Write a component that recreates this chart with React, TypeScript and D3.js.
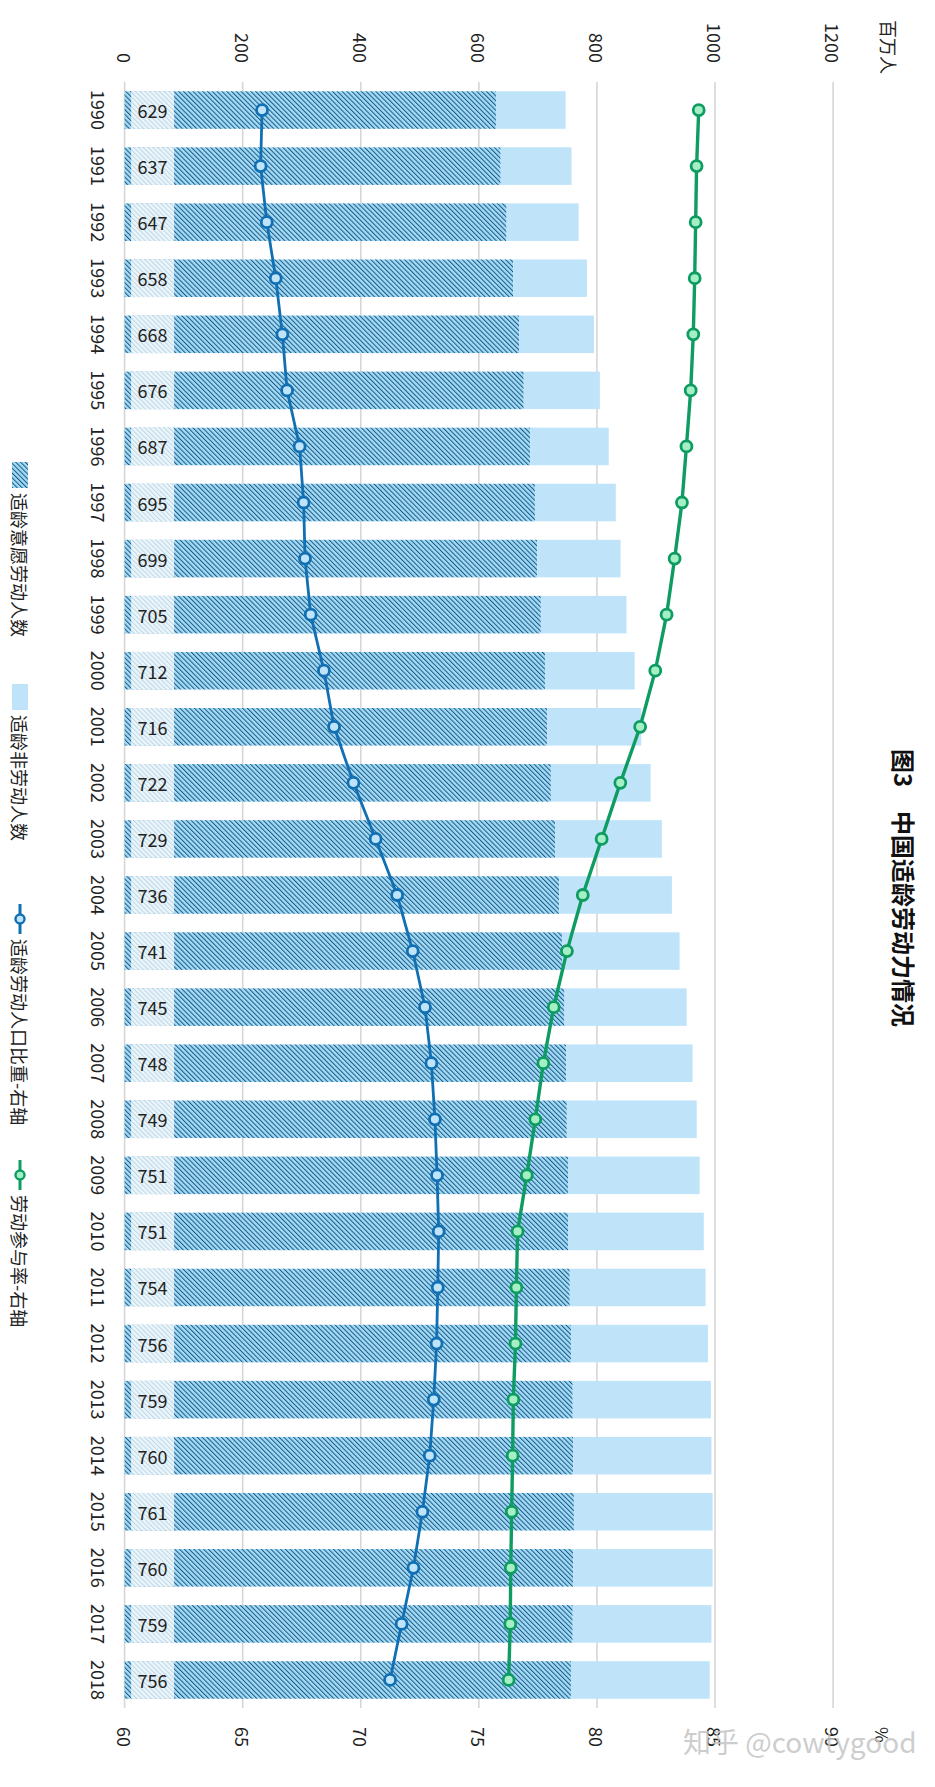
import React from 'react';
import * as d3 from 'd3';

const years = [1990,1991,1992,1993,1994,1995,1996,1997,1998,1999,2000,2001,2002,2003,2004,2005,2006,2007,2008,2009,2010,2011,2012,2013,2014,2015,2016,2017,2018];
const laborForce = [629,637,647,658,668,676,687,695,699,705,712,716,722,729,736,741,745,748,749,751,751,754,756,759,760,761,760,759,756];
const nonLabor = [118,120,122,125,127,129,133,137,141,145,152,159,169,181,191,199,207,214,220,223,230,230,232,234,234,235,236,235,235];
const workingAgeShare = [65.82,65.76,66.02,66.40,66.68,66.88,67.41,67.58,67.64,67.88,68.44,68.87,69.69,70.63,71.54,72.20,72.72,72.99,73.14,73.23,73.30,73.26,73.21,73.09,72.92,72.61,72.23,71.73,71.24];
const participation = [84.31,84.22,84.18,84.14,84.08,83.97,83.79,83.60,83.29,82.95,82.47,81.83,80.99,80.20,79.40,78.73,78.17,77.73,77.39,77.03,76.64,76.59,76.55,76.46,76.43,76.39,76.35,76.33,76.26];
const leftTicks = [0,200,400,600,800,1000,1200];
const rightTicks = [60,65,70,75,80,85,90];
const title = '图3\u3000中国适龄劳动力情况';
const leftUnit = '百万人';
const rightUnit = '%';
const legendNames = ['适龄意愿劳动人数','适龄非劳动人数','适龄劳动人口比重-右轴','劳动参与率-右轴'];

const FONT = '"Noto Sans CJK SC", "Noto Sans", sans-serif';
const C_LIGHT = '#bfe4fa';
const C_HATCH_BG = '#a3daf6';
const C_HATCH_LINE = '#1a5a86';
const C_BLUE = '#1170b3';
const C_BLUE_FILL = '#bfe4fa';
const C_GREEN = '#0e9c62';
const C_GREEN_FILL = '#a5efc5';
const C_GRID = '#d6d6d6';
const C_TEXT = '#222';

export default function App() {
  const W = 935, H = 1787;
  const y = d3.scaleBand<number>().domain(years).range([82, 1708]).paddingInner(0.33).paddingOuter(0.165);
  const xL = d3.scaleLinear().domain([0, 1200]).range([124.6, 833.1]);
  const xR = d3.scaleLinear().domain([60, 90]).range([124.6, 833.1]);
  const bw = y.bandwidth();
  const cy = (i: number) => (y(years[i]) as number) + bw / 2;
  const line = d3.line<number>().x(d => xR(d)).y((_d, i) => cy(i));

  const rot = (x: number, yy: number) => `rotate(90, ${x}, ${yy})`;

  const fs = 18;
  const legendItems = [
    { kind: 'hatch', start: 462, text: legendNames[0] },
    { kind: 'light', start: 684, text: legendNames[1] },
    { kind: 'blue', start: 904, text: legendNames[2] },
    { kind: 'green', start: 1160, text: legendNames[3] },
  ];
  const lx = 20;

  return (
    <svg width={W} height={H} style={{ position: 'absolute', left: 0, top: 0, display: 'block', background: '#fff' }} fontFamily={FONT}>
      <defs>
        <pattern id="hatch" patternUnits="userSpaceOnUse" width="3.4" height="3.4" patternTransform="rotate(-45)">
          <rect width="3.4" height="3.4" fill={C_HATCH_BG} />
          <line x1="0.5" y1="0" x2="0.5" y2="3.4" stroke={C_HATCH_LINE} strokeWidth="1.05" />
        </pattern>
      </defs>
      <rect x={0} y={0} width={W} height={H} fill="#fff" />

      {leftTicks.map(t => (
        <line key={'g' + t} x1={xL(t)} x2={xL(t)} y1={82} y2={1708} stroke={C_GRID} strokeWidth={1.6} />
      ))}

      {leftTicks.map(t => (
        <text key={'lt' + t} x={xL(t)} y={63} transform={rot(xL(t), 63)} textAnchor="end" dominantBaseline="central" fontSize={18} fill={C_TEXT}>{t}</text>
      ))}
      <text x={889} y={20} transform={rot(889, 20)} textAnchor="start" dominantBaseline="central" fontSize={18} fill={C_TEXT}>{leftUnit}</text>

      {rightTicks.map(t => (
        <text key={'rt' + t} x={xR(t)} y={1727} transform={rot(xR(t), 1727)} textAnchor="start" dominantBaseline="central" fontSize={18} fill={C_TEXT}>{t}</text>
      ))}
      <text x={882} y={1727} transform={rot(882, 1727)} textAnchor="start" dominantBaseline="central" fontSize={17} fill={C_TEXT}>{rightUnit}</text>

      {years.map((yr, i) => (
        <g key={'b' + yr}>
          <rect x={xL(0)} y={y(yr)} width={xL(laborForce[i]) - xL(0)} height={bw} fill="url(#hatch)" />
          <rect x={xL(laborForce[i])} y={y(yr)} width={xL(laborForce[i] + nonLabor[i]) - xL(laborForce[i])} height={bw} fill={C_LIGHT} />
          <rect x={xL(0) + 6.5} y={y(yr)} width={43} height={bw} fill="#fff" fillOpacity={0.75} />
          <text x={xL(0) + 28} y={cy(i)} textAnchor="middle" dominantBaseline="central" fontSize={18} fill={C_TEXT}>{laborForce[i]}</text>
        </g>
      ))}

      {years.map((yr, i) => (
        <text key={'y' + yr} x={99} y={cy(i)} transform={rot(99, cy(i))} textAnchor="middle" dominantBaseline="central" fontSize={18} fill={C_TEXT}>{yr}</text>
      ))}

      <path d={line(workingAgeShare) || ''} fill="none" stroke={C_BLUE} strokeWidth={2.8} />
      {workingAgeShare.map((v, i) => (
        <circle key={'bc' + i} cx={xR(v)} cy={cy(i)} r={5.5} fill={C_BLUE_FILL} stroke={C_BLUE} strokeWidth={2.8} />
      ))}
      <path d={line(participation) || ''} fill="none" stroke={C_GREEN} strokeWidth={3.4} />
      {participation.map((v, i) => (
        <circle key={'gc' + i} cx={xR(v)} cy={cy(i)} r={5.5} fill={C_GREEN_FILL} stroke={C_GREEN} strokeWidth={2.8} />
      ))}

      <text x={904.5} y={888} transform={rot(904.5, 888)} textAnchor="middle" dominantBaseline="central" fontSize={24} fontWeight="bold" fill="#111">{title}</text>

      {legendItems.map((it, k) => {
        const isLine = it.kind === 'blue' || it.kind === 'green';
        const symLen = isLine ? 30 : 26;
        const textStart = it.start + symLen + 5;
        const col = it.kind === 'blue' ? C_BLUE : C_GREEN;
        const fillc = it.kind === 'blue' ? C_BLUE_FILL : C_GREEN_FILL;
        return (
          <g key={'lg' + k}>
            {it.kind === 'hatch' && <rect x={lx - 8} y={it.start} width={16} height={26} fill="url(#hatch)" />}
            {it.kind === 'light' && <rect x={lx - 8} y={it.start} width={16} height={26} fill={C_LIGHT} />}
            {isLine && (
              <g>
                <line x1={lx} x2={lx} y1={it.start} y2={it.start + symLen} stroke={col} strokeWidth={3} />
                <circle cx={lx} cy={it.start + symLen / 2} r={4.5} fill={fillc} stroke={col} strokeWidth={2.4} />
              </g>
            )}
            <text x={lx} y={textStart} transform={rot(lx, textStart)} textAnchor="start" dominantBaseline="central" fontSize={fs} fill={C_TEXT}>{it.text}</text>
          </g>
        );
      })}

      <text x={683} y={1753} fontSize={28} fill="#c4c4c4" fillOpacity={0.85} fontFamily={FONT}>知乎 @cowtygood</text>
    </svg>
  );
}
